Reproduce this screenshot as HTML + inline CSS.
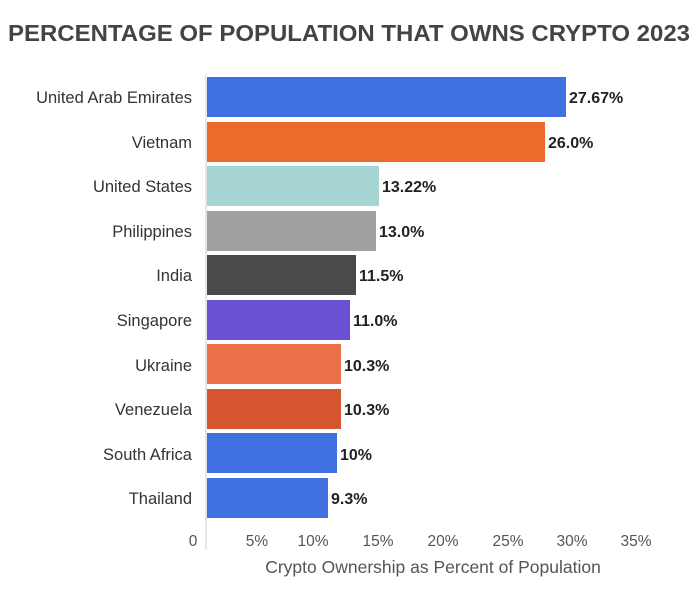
<!DOCTYPE html>
<html><head><style>body{margin:0;background:#fff}</style></head><body>
<svg width="700" height="600" xmlns="http://www.w3.org/2000/svg" font-family="Liberation Sans, sans-serif">
<rect width="700" height="600" fill="#fff"/>
<text x="8" y="41" font-size="23" font-weight="bold" fill="#444" textLength="682" lengthAdjust="spacingAndGlyphs">PERCENTAGE OF POPULATION THAT OWNS CRYPTO 2023</text>
<line x1="206" y1="74" x2="206" y2="550" stroke="#ddd" stroke-width="1.5"/>
<g font-size="16.5" fill="#333" text-anchor="end">
<text x="192" y="103">United Arab Emirates</text>
<text x="192" y="148">Vietnam</text>
<text x="192" y="192">United States</text>
<text x="192" y="237">Philippines</text>
<text x="192" y="281">India</text>
<text x="192" y="326">Singapore</text>
<text x="192" y="371">Ukraine</text>
<text x="192" y="415">Venezuela</text>
<text x="192" y="460">South Africa</text>
<text x="192" y="504">Thailand</text>
</g>
<g>
<rect x="207" y="77" width="359" height="40" fill="#4170e3"/>
<rect x="207" y="122" width="338" height="40" fill="#ec6a2c"/>
<rect x="207" y="166" width="172" height="40" fill="#a6d4d2"/>
<rect x="207" y="211" width="169" height="40" fill="#a0a0a0"/>
<rect x="207" y="255" width="149" height="40" fill="#4a4a4a"/>
<rect x="207" y="300" width="143" height="40" fill="#6a50d3"/>
<rect x="207" y="344" width="134" height="40" fill="#ec7048"/>
<rect x="207" y="389" width="134" height="40" fill="#d65630"/>
<rect x="207" y="433" width="130" height="40" fill="#4170e3"/>
<rect x="207" y="478" width="121" height="40" fill="#4170e3"/>
</g>
<g font-size="16" fill="#222" font-weight="bold">
<text x="569" y="103">27.67%</text>
<text x="548" y="148">26.0%</text>
<text x="382" y="192">13.22%</text>
<text x="379" y="237">13.0%</text>
<text x="359" y="281">11.5%</text>
<text x="353" y="326">11.0%</text>
<text x="344" y="371">10.3%</text>
<text x="344" y="415">10.3%</text>
<text x="340" y="460">10%</text>
<text x="331" y="504">9.3%</text>
</g>
<g font-size="15.5" fill="#555" text-anchor="middle">
<text x="193" y="546">0</text>
<text x="257" y="546">5%</text>
<text x="313" y="546">10%</text>
<text x="378" y="546">15%</text>
<text x="443" y="546">20%</text>
<text x="508" y="546">25%</text>
<text x="572" y="546">30%</text>
<text x="636" y="546">35%</text>
</g>
<text x="433" y="573" font-size="17.5" fill="#555" text-anchor="middle">Crypto Ownership as Percent of Population</text>
</svg>
</body></html>
